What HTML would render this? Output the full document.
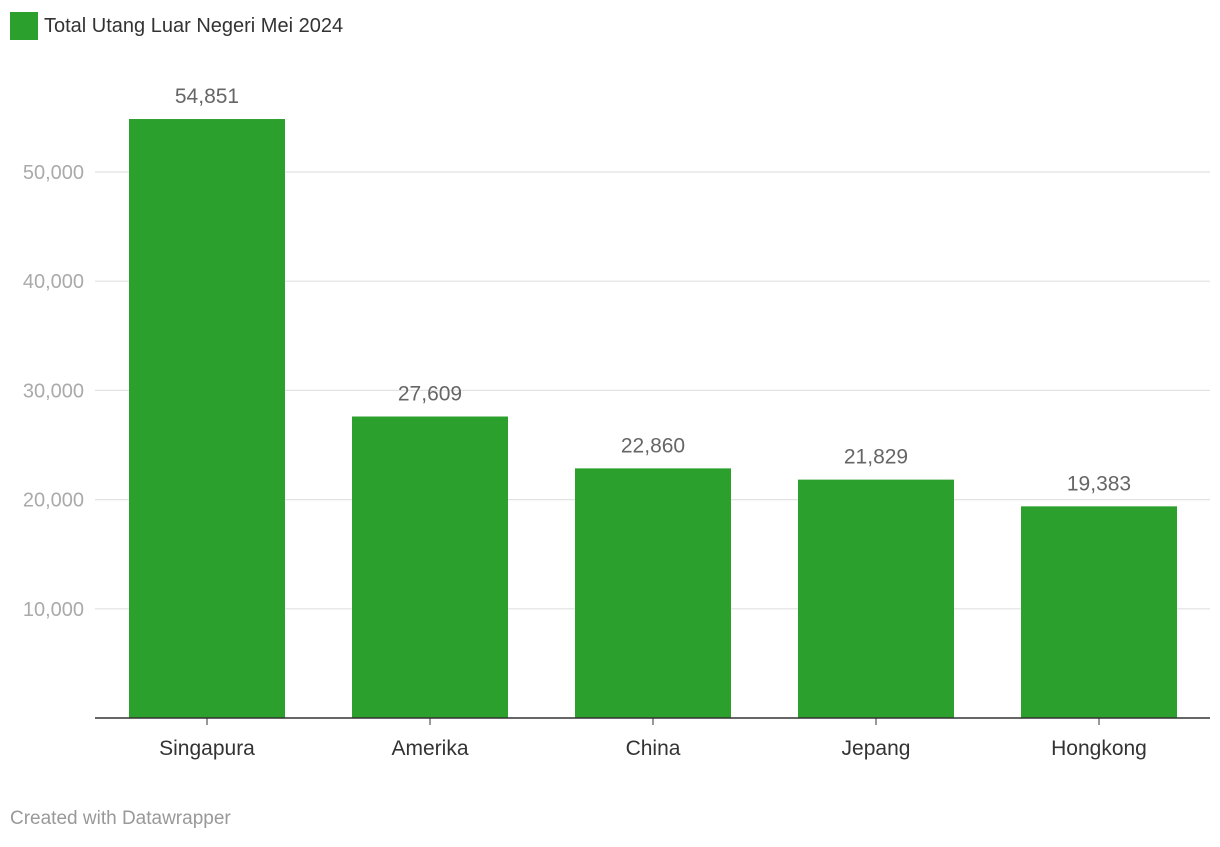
<!DOCTYPE html>
<html><head><meta charset="utf-8"><style>
body{margin:0;background:#fff;font-family:"Liberation Sans",Arial,sans-serif;}
svg text{font-family:"Liberation Sans",Arial,sans-serif;}
</style></head><body>
<svg id="chart" width="1220" height="842">
<g id="grid"></g>
<g id="bars"></g>
<line x1="95" x2="1210" y1="718" y2="718" stroke="#333" stroke-width="1.5"/>
<rect x="10" y="12" width="28" height="28" fill="#2ca02c"/>
<text x="44" y="32" font-size="20" fill="#333">Total Utang Luar Negeri Mei 2024</text>
<text x="10" y="824" font-size="19" fill="#999">Created with Datawrapper</text>
</svg>
<script>
const categories=["Singapura","Amerika","China","Jepang","Hongkong"];
const values=[54851,27609,22860,21829,19383];
const valueLabels=["54,851","27,609","22,860","21,829","19,383"];
const ticks=[10000,20000,30000,40000,50000];
const tickLabels=["10,000","20,000","30,000","40,000","50,000"];
const NS="http://www.w3.org/2000/svg";
const y0=718, pxPer=(718-172)/50000;
const y=v=>y0-v*pxPer;
const x=i=>129+i*223;
const bw=156;
function mk(t,a,p){const e=document.createElementNS(NS,t);for(const k in a)e.setAttribute(k,a[k]);p.appendChild(e);return e;}
const grid=document.getElementById('grid'),bars=document.getElementById('bars');
ticks.forEach((t,i)=>{
 const l=mk('line',{x1:95,x2:1210,y1:y(t),y2:y(t),stroke:'#e2e2e2','stroke-width':1.2},grid);
 
 
 const tx=mk('text',{x:84,y:y(t)+7,'font-size':20,fill:'#aaa','text-anchor':'end'},grid);
 tx.textContent=tickLabels[i];
 
 
});
categories.forEach((c,i)=>{
 const r=mk('rect',{x:x(i),y:y(values[i]),width:bw,height:y0-y(values[i]),fill:'#2ca02c'},bars);
 
 
 const v=mk('text',{x:x(i)+bw/2,y:y(values[i])-16,'font-size':21,fill:'#666','text-anchor':'middle'},bars);
 v.textContent=valueLabels[i];
 
 
 const tk=mk('line',{x1:x(i)+bw/2,x2:x(i)+bw/2,y1:718,y2:725,stroke:'#333','stroke-width':1},bars);
 
 
 const cl=mk('text',{x:x(i)+bw/2,y:755,'font-size':21,fill:'#333','text-anchor':'middle'},bars);
 cl.textContent=c;
 
 
});
</script>
</body></html>
